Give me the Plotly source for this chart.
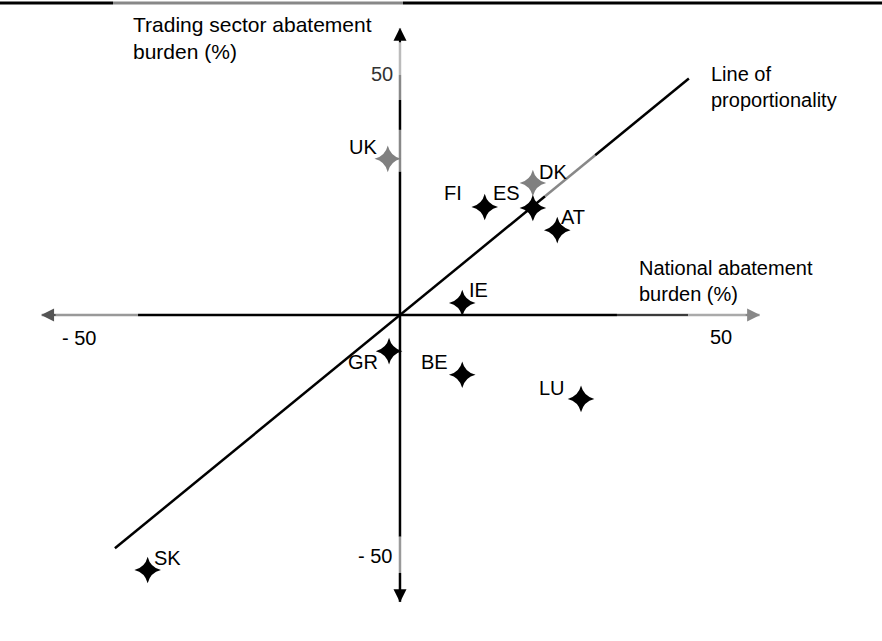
import plotly.graph_objects as go

# ---- data ----
countries = ["UK", "DK", "ES", "FI", "AT", "IE", "GR", "BE", "LU", "SK"]
national = [-1.9, 20.7, 20.7, 13.2, 24.5, 9.7, -1.7, 9.7, 28.2, -39.3]
trading = [32.4, 27.4, 22.2, 22.4, 17.6, 2.5, -7.5, -12.4, -17.4, -52.9]
highlight = ["UK", "DK"]
prop_x = [-44.4, 45.0]
prop_slope = 1.09
axis_tick = 50

# ---- style ----
label_off = {"UK": (-25, 12), "DK": (20, 11), "ES": (-26, 15), "FI": (-32, 14),
             "AT": (16, 13), "IE": (16, 13), "GR": (-26, -11), "BE": (-28, 13),
             "LU": (-29, 11), "SK": (20, 12)}
FONT = "Liberation Sans, Arial, sans-serif"
XR = [-62.3, 75.08]
YR = [-67.63, 65.35]

fig = go.Figure()

def seg(x0, y0, x1, y1, color, w=2.5):
    fig.add_shape(type="line", x0=x0, y0=y0, x1=x1, y1=y1, xref="x", yref="y",
                  line=dict(color=color, width=w), layer="below")

# x axis
seg(-55.8, 0, -40.8, 0, "#999999")
seg(-40.8, 0, 33.8, 0, "black")
seg(33.8, 0, 44.9, 0, "#777777")
seg(33.8, 0, 44.9, 0, "black", 1.2)
seg(44.9, 0, 56.0, 0, "#aaaaaa")
# y axis
seg(0, 59.5, 0, 49.8, "#bbbbbb")
seg(0, 49.8, 0, 44.6, "#888888")
seg(0, 44.6, 0, 38.4, "black")
seg(0, 38.4, 0, 29.7, "#888888")
seg(0, 29.7, 0, -46.0, "black")
seg(0, -46.0, 0, -53.5, "#999999")
seg(0, -53.5, 0, -59.5, "black")

# line of proportionality
x0, x1 = prop_x
seg(x0, prop_slope * x0, 22.6, prop_slope * 22.6, "black")
seg(22.6, prop_slope * 22.6, 30.4, prop_slope * 30.4, "#888888")
seg(30.4, prop_slope * 30.4, x1, prop_slope * x1, "black")

# arrows
def arrow(x, y, ax, ay, color):
    fig.add_annotation(x=x, y=y, ax=ax, ay=ay, xref="x", yref="y", text="",
                       showarrow=True, arrowhead=2, arrowsize=1.3, arrowwidth=2,
                       arrowcolor=color)
arrow(56.1, 0, -16, 0, "#888888")
arrow(-55.9, 0, 16, 0, "#555555")
arrow(0, 59.6, 0, 16, "black")
arrow(0, -59.6, 0, -16, "black")

# points
colors = ["#808080" if c in highlight else "black" for c in countries]
fig.add_trace(go.Scatter(x=national, y=trading, mode="markers",
                         marker=dict(symbol="star-diamond", size=19, color=colors,
                                     line=dict(width=0)),
                         hoverinfo="text", text=countries, showlegend=False))
for c, xv, yv in zip(countries, national, trading):
    dx, dy = label_off[c]
    fig.add_annotation(x=xv, y=yv, text=c, showarrow=False, xshift=dx, yshift=dy,
                       font=dict(family=FONT, size=20, color="black"))

def txt(x, y, s, xa="center", ya="middle", color="black", size=20):
    fig.add_annotation(x=x, y=y, text=s, showarrow=False, xanchor=xa, yanchor=ya,
                       align="left", font=dict(family=FONT, size=size, color=color))

txt(-0.78, axis_tick, str(axis_tick), xa="right", color="#333333")
txt(-0.9, -axis_tick, "- " + str(axis_tick), xa="right")
txt(axis_tick, -4.6, str(axis_tick))
txt(-axis_tick, -4.8, "- " + str(axis_tick))
txt(-41.9, 63.0, "Trading sector abatement<br>burden (%)", xa="left", ya="top", size=21)
txt(36.9, 12.4, "National abatement<br>burden (%)", xa="left", ya="top")
txt(48.1, 52.6, "Line of<br>proportionality", xa="left", ya="top")

# top rule
fig.add_shape(type="line", xref="paper", yref="paper", x0=0, x1=113/882, y0=1-3/641, y1=1-3/641,
              line=dict(color="black", width=3))
fig.add_shape(type="line", xref="paper", yref="paper", x0=113/882, x1=403/882, y0=1-3/641, y1=1-3/641,
              line=dict(color="#888888", width=3))
fig.add_shape(type="line", xref="paper", yref="paper", x0=403/882, x1=1, y0=1-3/641, y1=1-3/641,
              line=dict(color="black", width=3))

fig.update_xaxes(range=XR, visible=False, fixedrange=True)
fig.update_yaxes(range=YR, visible=False, fixedrange=True)
fig.update_layout(width=882, height=641, margin=dict(l=0, r=0, t=0, b=0),
                  plot_bgcolor="white", paper_bgcolor="white",
                  font=dict(family=FONT, size=20))
fig.write_html("out.html", config={"displayModeBar": False},
               post_script="document.body.style.margin='0';document.body.style.overflow='hidden';")
